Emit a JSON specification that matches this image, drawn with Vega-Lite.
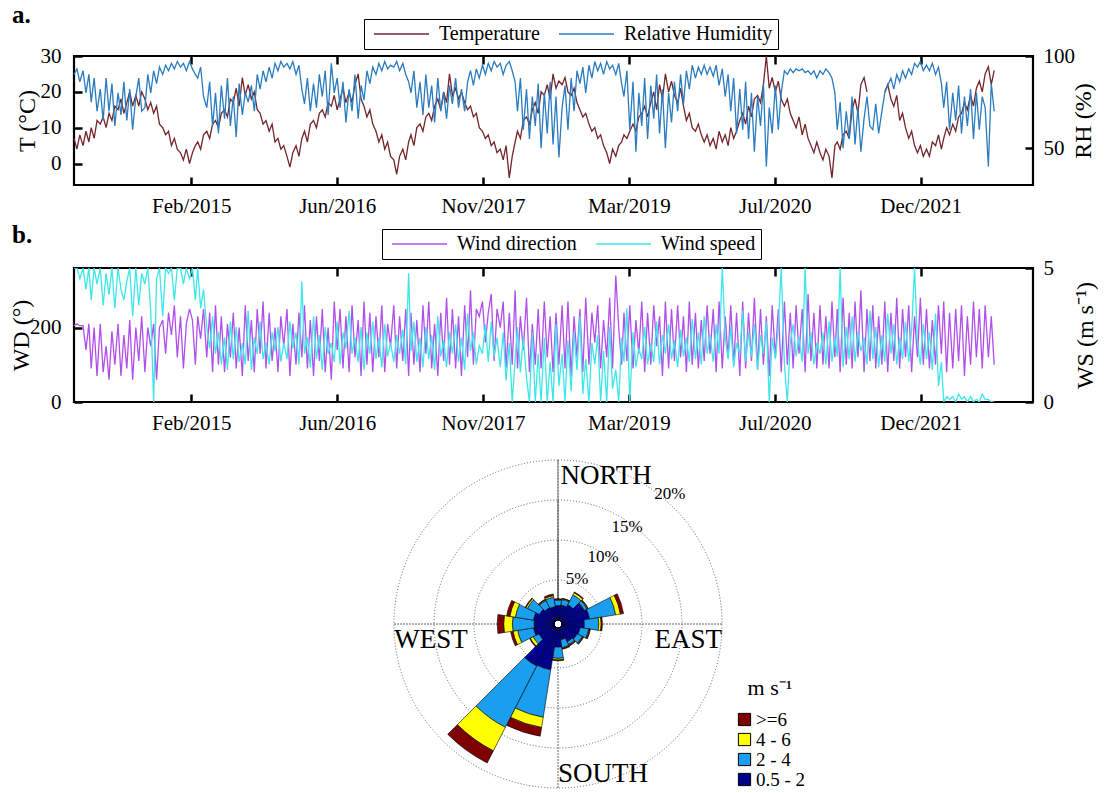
{
  "$schema": "https://vega.github.io/schema/vega-lite/v6.json",
  "background": "white",
  "padding": {"left": 7, "top": 1, "right": 6, "bottom": 2},
  "bounds": "flush",
  "spacing": 83,
  "resolve": {"scale": {"color": "independent"}, "legend": {"color": "independent"}},
  "config": {
    "font": "Liberation Serif",
    "view": {"stroke": "black", "strokeWidth": 2.2},
    "axis": {
      "labelFont": "Liberation Serif", "titleFont": "Liberation Serif",
      "labelFontSize": 21, "titleFontSize": 24, "titleFontWeight": "normal",
      "labelColor": "black", "titleColor": "black",
      "domain": false, "grid": false,
      "tickColor": "black", "tickWidth": 2.5, "tickSize": -8,
      "labelPadding": 18, "labelFlush": false, "labelOverlap": false
    },
    "legend": {"labelFont": "Liberation Serif", "titleFont": "Liberation Serif", "labelColor": "black", "titleColor": "black"},
    "title": {"font": "Liberation Serif", "fontSize": 25, "fontWeight": "bold", "anchor": "start", "frame": "group", "color": "black"}
  },
  "datasets": {
    "met": [
      {"d":"2014-01-01","T":7,"RH":90,"WD":205,"WS":5},
      {"d":"2014-01-11","T":4,"RH":93,"WD":210,"WS":5},
      {"d":"2014-01-21","T":8,"RH":86,"WD":205,"WS":4.6},
      {"d":"2014-02-01","T":5,"RH":92,"WD":205,"WS":5},
      {"d":"2014-02-11","T":9,"RH":80,"WD":140,"WS":4.2},
      {"d":"2014-02-21","T":6,"RH":90,"WD":210,"WS":5},
      {"d":"2014-03-01","T":10,"RH":75,"WD":90,"WS":3.8},
      {"d":"2014-03-11","T":7,"RH":88,"WD":200,"WS":5},
      {"d":"2014-03-21","T":12,"RH":70,"WD":70,"WS":4.4},
      {"d":"2014-04-01","T":11,"RH":82,"WD":210,"WS":5},
      {"d":"2014-04-11","T":13,"RH":65,"WD":80,"WS":3.6},
      {"d":"2014-04-21","T":10,"RH":88,"WD":150,"WS":4.8},
      {"d":"2014-05-01","T":14,"RH":70,"WD":60,"WS":4},
      {"d":"2014-05-11","T":12,"RH":85,"WD":190,"WS":5},
      {"d":"2014-05-21","T":16,"RH":62,"WD":100,"WS":3.5},
      {"d":"2014-06-01","T":15,"RH":80,"WD":210,"WS":5},
      {"d":"2014-06-11","T":18,"RH":68,"WD":70,"WS":4.2},
      {"d":"2014-06-21","T":14,"RH":86,"WD":180,"WS":3.8},
      {"d":"2014-07-01","T":17,"RH":65,"WD":90,"WS":4.5},
      {"d":"2014-07-11","T":20,"RH":82,"WD":220,"WS":5},
      {"d":"2014-07-21","T":16,"RH":60,"WD":60,"WS":3.2},
      {"d":"2014-08-01","T":19,"RH":78,"WD":200,"WS":5},
      {"d":"2014-08-11","T":16,"RH":88,"WD":110,"WS":3.6},
      {"d":"2014-08-21","T":20,"RH":70,"WD":230,"WS":4.8},
      {"d":"2014-09-01","T":18,"RH":72,"WD":80,"WS":4.4},
      {"d":"2014-09-11","T":15,"RH":90,"WD":200,"WS":5},
      {"d":"2014-09-21","T":17,"RH":80,"WD":150,"WS":3.4},
      {"d":"2014-10-01","T":14,"RH":92,"WD":210,"WS":0},
      {"d":"2014-10-11","T":16,"RH":85,"WD":60,"WS":4.6},
      {"d":"2014-10-21","T":11,"RH":94,"WD":200,"WS":5},
      {"d":"2014-11-01","T":10,"RH":90,"WD":220,"WS":3.2},
      {"d":"2014-11-11","T":8,"RH":95,"WD":130,"WS":5},
      {"d":"2014-11-21","T":9,"RH":92,"WD":240,"WS":4.8},
      {"d":"2014-12-01","T":5,"RH":96,"WD":180,"WS":5},
      {"d":"2014-12-11","T":7,"RH":93,"WD":260,"WS":3.8},
      {"d":"2014-12-21","T":4,"RH":97,"WD":120,"WS":5},
      {"d":"2015-01-01","T":3,"RH":94,"WD":230,"WS":5},
      {"d":"2015-01-11","T":1,"RH":96,"WD":90,"WS":4.4},
      {"d":"2015-01-21","T":4,"RH":92,"WD":210,"WS":5},
      {"d":"2015-02-01","T":0,"RH":97,"WD":250,"WS":4.6},
      {"d":"2015-02-11","T":3,"RH":93,"WD":220,"WS":5},
      {"d":"2015-02-21","T":5,"RH":90,"WD":100,"WS":3.8},
      {"d":"2015-03-01","T":6,"RH":88,"WD":230,"WS":5},
      {"d":"2015-03-11","T":4,"RH":94,"WD":170,"WS":3.5},
      {"d":"2015-03-21","T":8,"RH":78,"WD":250,"WS":4.2},
      {"d":"2015-04-01","T":9,"RH":72,"WD":120,"WS":2.8},
      {"d":"2015-04-11","T":7,"RH":86,"WD":240,"WS":2},
      {"d":"2015-04-21","T":11,"RH":62,"WD":80,"WS":3.2},
      {"d":"2015-05-01","T":12,"RH":80,"WD":260,"WS":1.8},
      {"d":"2015-05-11","T":10,"RH":58,"WD":100,"WS":2.6},
      {"d":"2015-05-21","T":14,"RH":84,"WD":230,"WS":1.4},
      {"d":"2015-06-01","T":15,"RH":66,"WD":80,"WS":2.4},
      {"d":"2015-06-11","T":13,"RH":88,"WD":210,"WS":1.2},
      {"d":"2015-06-21","T":18,"RH":62,"WD":120,"WS":3},
      {"d":"2015-07-01","T":17,"RH":78,"WD":240,"WS":1.6},
      {"d":"2015-07-11","T":21,"RH":56,"WD":90,"WS":2.8},
      {"d":"2015-07-21","T":16,"RH":85,"WD":200,"WS":1.5},
      {"d":"2015-08-01","T":24,"RH":68,"WD":70,"WS":2.2},
      {"d":"2015-08-11","T":19,"RH":80,"WD":260,"WS":1.4},
      {"d":"2015-08-21","T":22,"RH":75,"WD":110,"WS":3.4},
      {"d":"2015-09-01","T":18,"RH":84,"WD":220,"WS":1.2},
      {"d":"2015-09-11","T":20,"RH":70,"WD":80,"WS":2.4},
      {"d":"2015-09-21","T":15,"RH":90,"WD":250,"WS":1.8},
      {"d":"2015-10-01","T":14,"RH":82,"WD":130,"WS":3},
      {"d":"2015-10-11","T":11,"RH":92,"WD":270,"WS":1.6},
      {"d":"2015-10-21","T":12,"RH":86,"WD":90,"WS":2.2},
      {"d":"2015-11-01","T":9,"RH":94,"WD":240,"WS":1.4},
      {"d":"2015-11-11","T":11,"RH":88,"WD":110,"WS":2.6},
      {"d":"2015-11-21","T":6,"RH":96,"WD":200,"WS":1.9},
      {"d":"2015-12-01","T":7,"RH":92,"WD":80,"WS":2.8},
      {"d":"2015-12-11","T":4,"RH":97,"WD":230,"WS":1.5},
      {"d":"2015-12-21","T":5,"RH":94,"WD":150,"WS":2.2},
      {"d":"2016-01-01","T":2,"RH":96,"WD":250,"WS":1.6},
      {"d":"2016-01-11","T":-1,"RH":93,"WD":70,"WS":3},
      {"d":"2016-01-21","T":3,"RH":97,"WD":210,"WS":2},
      {"d":"2016-02-01","T":5,"RH":90,"WD":100,"WS":2.6},
      {"d":"2016-02-11","T":2,"RH":95,"WD":240,"WS":1.4},
      {"d":"2016-02-21","T":7,"RH":82,"WD":120,"WS":4.5},
      {"d":"2016-03-01","T":9,"RH":74,"WD":260,"WS":1.8},
      {"d":"2016-03-11","T":6,"RH":88,"WD":90,"WS":2.4},
      {"d":"2016-03-21","T":11,"RH":70,"WD":220,"WS":1.3},
      {"d":"2016-04-01","T":12,"RH":85,"WD":70,"WS":3.2},
      {"d":"2016-04-11","T":10,"RH":72,"WD":230,"WS":1.6},
      {"d":"2016-04-21","T":14,"RH":90,"WD":110,"WS":2.5},
      {"d":"2016-05-01","T":15,"RH":78,"WD":250,"WS":1.2},
      {"d":"2016-05-11","T":13,"RH":92,"WD":80,"WS":2.8},
      {"d":"2016-05-21","T":17,"RH":68,"WD":200,"WS":1.8},
      {"d":"2016-06-01","T":16,"RH":96,"WD":60,"WS":2.2},
      {"d":"2016-06-11","T":19,"RH":80,"WD":270,"WS":1.5},
      {"d":"2016-06-21","T":15,"RH":88,"WD":140,"WS":3},
      {"d":"2016-07-01","T":18,"RH":72,"WD":250,"WS":1.4},
      {"d":"2016-07-11","T":21,"RH":86,"WD":90,"WS":2.6},
      {"d":"2016-07-21","T":17,"RH":64,"WD":230,"WS":2},
      {"d":"2016-08-01","T":20,"RH":82,"WD":80,"WS":3.4},
      {"d":"2016-08-11","T":17,"RH":70,"WD":260,"WS":1.8},
      {"d":"2016-08-21","T":22,"RH":90,"WD":120,"WS":2.4},
      {"d":"2016-09-01","T":25,"RH":66,"WD":220,"WS":1.5},
      {"d":"2016-09-11","T":18,"RH":84,"WD":70,"WS":2.8},
      {"d":"2016-09-21","T":16,"RH":76,"WD":270,"WS":1.2},
      {"d":"2016-10-01","T":13,"RH":92,"WD":100,"WS":2.6},
      {"d":"2016-10-11","T":15,"RH":85,"WD":240,"WS":1.8},
      {"d":"2016-10-21","T":11,"RH":94,"WD":80,"WS":3},
      {"d":"2016-11-01","T":9,"RH":90,"WD":230,"WS":1.6},
      {"d":"2016-11-11","T":6,"RH":96,"WD":120,"WS":2.4},
      {"d":"2016-11-21","T":8,"RH":92,"WD":260,"WS":1.3},
      {"d":"2016-12-01","T":4,"RH":97,"WD":80,"WS":2.9},
      {"d":"2016-12-11","T":6,"RH":93,"WD":210,"WS":1.7},
      {"d":"2016-12-21","T":2,"RH":95,"WD":150,"WS":2.2},
      {"d":"2017-01-01","T":1,"RH":94,"WD":260,"WS":1.5},
      {"d":"2017-01-11","T":-3,"RH":97,"WD":90,"WS":2.5},
      {"d":"2017-01-21","T":2,"RH":92,"WD":230,"WS":1.8},
      {"d":"2017-02-01","T":4,"RH":96,"WD":110,"WS":2.7},
      {"d":"2017-02-11","T":1,"RH":90,"WD":250,"WS":1.4},
      {"d":"2017-02-21","T":6,"RH":86,"WD":70,"WS":4.8},
      {"d":"2017-03-01","T":8,"RH":80,"WD":240,"WS":1.9},
      {"d":"2017-03-11","T":5,"RH":92,"WD":100,"WS":3},
      {"d":"2017-03-21","T":10,"RH":72,"WD":220,"WS":1.5},
      {"d":"2017-04-01","T":11,"RH":86,"WD":80,"WS":2.4},
      {"d":"2017-04-11","T":9,"RH":68,"WD":260,"WS":1.3},
      {"d":"2017-04-21","T":13,"RH":90,"WD":130,"WS":2.8},
      {"d":"2017-05-01","T":14,"RH":72,"WD":270,"WS":1.6},
      {"d":"2017-05-11","T":12,"RH":84,"WD":90,"WS":2.5},
      {"d":"2017-05-21","T":16,"RH":64,"WD":210,"WS":1.2},
      {"d":"2017-06-01","T":18,"RH":88,"WD":70,"WS":3.2},
      {"d":"2017-06-11","T":15,"RH":70,"WD":240,"WS":1.7},
      {"d":"2017-06-21","T":20,"RH":80,"WD":110,"WS":2.3},
      {"d":"2017-07-01","T":17,"RH":66,"WD":280,"WS":1.3},
      {"d":"2017-07-11","T":25,"RH":84,"WD":100,"WS":2.6},
      {"d":"2017-07-21","T":19,"RH":74,"WD":250,"WS":1.8},
      {"d":"2017-08-01","T":21,"RH":88,"WD":90,"WS":2.9},
      {"d":"2017-08-11","T":18,"RH":72,"WD":230,"WS":1.5},
      {"d":"2017-08-21","T":20,"RH":82,"WD":70,"WS":2.4},
      {"d":"2017-09-01","T":17,"RH":70,"WD":260,"WS":1.2},
      {"d":"2017-09-11","T":15,"RH":86,"WD":120,"WS":3.3},
      {"d":"2017-09-21","T":16,"RH":92,"WD":300,"WS":1.9},
      {"d":"2017-10-01","T":13,"RH":84,"WD":100,"WS":2.6},
      {"d":"2017-10-11","T":14,"RH":93,"WD":250,"WS":1.4},
      {"d":"2017-10-21","T":10,"RH":88,"WD":230,"WS":2.1},
      {"d":"2017-11-01","T":9,"RH":95,"WD":270,"WS":1.8},
      {"d":"2017-11-11","T":7,"RH":90,"WD":160,"WS":2.9},
      {"d":"2017-11-21","T":8,"RH":96,"WD":240,"WS":1.5},
      {"d":"2017-12-01","T":5,"RH":92,"WD":290,"WS":3},
      {"d":"2017-12-11","T":6,"RH":97,"WD":110,"WS":1.7},
      {"d":"2017-12-21","T":3,"RH":94,"WD":250,"WS":2.4},
      {"d":"2018-01-01","T":4,"RH":96,"WD":200,"WS":1.3},
      {"d":"2018-01-11","T":1,"RH":90,"WD":270,"WS":2.6},
      {"d":"2018-01-21","T":5,"RH":95,"WD":90,"WS":0.8},
      {"d":"2018-02-01","T":-4,"RH":97,"WD":240,"WS":2.2},
      {"d":"2018-02-11","T":2,"RH":92,"WD":100,"WS":0},
      {"d":"2018-02-21","T":6,"RH":86,"WD":300,"WS":1.6},
      {"d":"2018-03-01","T":9,"RH":70,"WD":90,"WS":2.8},
      {"d":"2018-03-11","T":7,"RH":88,"WD":230,"WS":1.1},
      {"d":"2018-03-21","T":12,"RH":60,"WD":140,"WS":2.4},
      {"d":"2018-04-01","T":13,"RH":82,"WD":280,"WS":0.9},
      {"d":"2018-04-11","T":11,"RH":55,"WD":80,"WS":0},
      {"d":"2018-04-21","T":15,"RH":78,"WD":210,"WS":2.6},
      {"d":"2018-05-01","T":17,"RH":62,"WD":100,"WS":0},
      {"d":"2018-05-11","T":14,"RH":85,"WD":250,"WS":1.8},
      {"d":"2018-05-21","T":20,"RH":50,"WD":90,"WS":0},
      {"d":"2018-06-01","T":19,"RH":80,"WD":270,"WS":2.4},
      {"d":"2018-06-11","T":22,"RH":58,"WD":120,"WS":0},
      {"d":"2018-06-21","T":18,"RH":86,"WD":230,"WS":1.5},
      {"d":"2018-07-01","T":25,"RH":52,"WD":80,"WS":0},
      {"d":"2018-07-11","T":21,"RH":78,"WD":240,"WS":2.9},
      {"d":"2018-07-21","T":23,"RH":45,"WD":100,"WS":0.6},
      {"d":"2018-08-01","T":22,"RH":72,"WD":260,"WS":1.8},
      {"d":"2018-08-11","T":24,"RH":84,"WD":90,"WS":0},
      {"d":"2018-08-21","T":20,"RH":60,"WD":270,"WS":2.3},
      {"d":"2018-09-01","T":19,"RH":88,"WD":70,"WS":0.4},
      {"d":"2018-09-11","T":21,"RH":70,"WD":230,"WS":2.6},
      {"d":"2018-09-21","T":17,"RH":92,"WD":120,"WS":1.2},
      {"d":"2018-10-01","T":15,"RH":85,"WD":250,"WS":3.2},
      {"d":"2018-10-11","T":13,"RH":94,"WD":80,"WS":0.3},
      {"d":"2018-10-21","T":14,"RH":80,"WD":280,"WS":1.6},
      {"d":"2018-11-01","T":11,"RH":95,"WD":100,"WS":0},
      {"d":"2018-11-11","T":9,"RH":88,"WD":240,"WS":2.2},
      {"d":"2018-11-21","T":10,"RH":97,"WD":160,"WS":1.4},
      {"d":"2018-12-01","T":7,"RH":92,"WD":260,"WS":2.5},
      {"d":"2018-12-11","T":8,"RH":96,"WD":90,"WS":0},
      {"d":"2018-12-21","T":5,"RH":90,"WD":220,"WS":1.9},
      {"d":"2019-01-01","T":3,"RH":97,"WD":120,"WS":0},
      {"d":"2019-01-11","T":0,"RH":93,"WD":280,"WS":2.8},
      {"d":"2019-01-21","T":4,"RH":95,"WD":90,"WS":0.5},
      {"d":"2019-02-01","T":2,"RH":90,"WD":340,"WS":1.2},
      {"d":"2019-02-11","T":5,"RH":96,"WD":200,"WS":0},
      {"d":"2019-02-21","T":6,"RH":85,"WD":100,"WS":2.4},
      {"d":"2019-03-01","T":8,"RH":78,"WD":240,"WS":1.5},
      {"d":"2019-03-11","T":7,"RH":92,"WD":110,"WS":3.5},
      {"d":"2019-03-21","T":9,"RH":60,"WD":260,"WS":0},
      {"d":"2019-04-01","T":11,"RH":86,"WD":90,"WS":2.6},
      {"d":"2019-04-11","T":9,"RH":48,"WD":220,"WS":1.3},
      {"d":"2019-04-21","T":13,"RH":80,"WD":130,"WS":2},
      {"d":"2019-05-01","T":14,"RH":62,"WD":270,"WS":1.6},
      {"d":"2019-05-11","T":16,"RH":88,"WD":80,"WS":2.8},
      {"d":"2019-05-21","T":13,"RH":55,"WD":240,"WS":1.4},
      {"d":"2019-06-01","T":17,"RH":84,"WD":100,"WS":2.2},
      {"d":"2019-06-11","T":20,"RH":66,"WD":260,"WS":1.5},
      {"d":"2019-06-21","T":15,"RH":90,"WD":150,"WS":3},
      {"d":"2019-07-01","T":22,"RH":58,"WD":230,"WS":1.4},
      {"d":"2019-07-11","T":18,"RH":82,"WD":70,"WS":2.5},
      {"d":"2019-07-21","T":25,"RH":50,"WD":270,"WS":1.8},
      {"d":"2019-08-01","T":20,"RH":80,"WD":90,"WS":2.9},
      {"d":"2019-08-11","T":23,"RH":64,"WD":250,"WS":1.6},
      {"d":"2019-08-21","T":19,"RH":86,"WD":110,"WS":2.3},
      {"d":"2019-09-01","T":17,"RH":70,"WD":260,"WS":1.3},
      {"d":"2019-09-11","T":21,"RH":90,"WD":120,"WS":2.7},
      {"d":"2019-09-21","T":16,"RH":74,"WD":230,"WS":1.7},
      {"d":"2019-10-01","T":12,"RH":92,"WD":80,"WS":2.4},
      {"d":"2019-10-11","T":14,"RH":82,"WD":270,"WS":1.5},
      {"d":"2019-10-21","T":10,"RH":95,"WD":100,"WS":3.1},
      {"d":"2019-11-01","T":9,"RH":88,"WD":240,"WS":1.6},
      {"d":"2019-11-11","T":11,"RH":94,"WD":90,"WS":2.6},
      {"d":"2019-11-21","T":8,"RH":90,"WD":220,"WS":1.4},
      {"d":"2019-12-01","T":6,"RH":95,"WD":110,"WS":3.2},
      {"d":"2019-12-11","T":8,"RH":90,"WD":260,"WS":1.8},
      {"d":"2019-12-21","T":5,"RH":94,"WD":130,"WS":2.5},
      {"d":"2020-01-01","T":7,"RH":89,"WD":250,"WS":1.5},
      {"d":"2020-01-11","T":4,"RH":95,"WD":80,"WS":2.9},
      {"d":"2020-01-21","T":9,"RH":84,"WD":270,"WS":1.8},
      {"d":"2020-02-01","T":6,"RH":93,"WD":90,"WS":5},
      {"d":"2020-02-11","T":8,"RH":78,"WD":230,"WS":2.4},
      {"d":"2020-02-21","T":5,"RH":90,"WD":120,"WS":1.6},
      {"d":"2020-03-01","T":10,"RH":70,"WD":260,"WS":2.8},
      {"d":"2020-03-11","T":7,"RH":88,"WD":100,"WS":1.3},
      {"d":"2020-03-21","T":9,"RH":58,"WD":240,"WS":2.2},
      {"d":"2020-04-01","T":12,"RH":82,"WD":70,"WS":1.8},
      {"d":"2020-04-11","T":14,"RH":60,"WD":270,"WS":3.4},
      {"d":"2020-04-21","T":11,"RH":86,"WD":90,"WS":1.5},
      {"d":"2020-05-01","T":16,"RH":55,"WD":240,"WS":2.6},
      {"d":"2020-05-11","T":13,"RH":80,"WD":110,"WS":1.7},
      {"d":"2020-05-21","T":18,"RH":48,"WD":280,"WS":2.9},
      {"d":"2020-06-01","T":19,"RH":78,"WD":90,"WS":1.2},
      {"d":"2020-06-11","T":17,"RH":62,"WD":250,"WS":2.5},
      {"d":"2020-06-21","T":22,"RH":85,"WD":100,"WS":1.8},
      {"d":"2020-07-01","T":30,"RH":40,"WD":230,"WS":3},
      {"d":"2020-07-11","T":21,"RH":72,"WD":70,"WS":0},
      {"d":"2020-07-21","T":24,"RH":58,"WD":260,"WS":2.4},
      {"d":"2020-08-01","T":20,"RH":84,"WD":120,"WS":1.6},
      {"d":"2020-08-11","T":23,"RH":60,"WD":250,"WS":2.8},
      {"d":"2020-08-21","T":18,"RH":80,"WD":80,"WS":5},
      {"d":"2020-09-01","T":16,"RH":92,"WD":270,"WS":1.4},
      {"d":"2020-09-11","T":18,"RH":90,"WD":100,"WS":0},
      {"d":"2020-09-21","T":14,"RH":93,"WD":240,"WS":2.2},
      {"d":"2020-10-01","T":12,"RH":91,"WD":90,"WS":2.9},
      {"d":"2020-10-11","T":10,"RH":93,"WD":260,"WS":1.7},
      {"d":"2020-10-21","T":13,"RH":92,"WD":130,"WS":2.4},
      {"d":"2020-11-01","T":8,"RH":93,"WD":250,"WS":1.5},
      {"d":"2020-11-11","T":11,"RH":91,"WD":80,"WS":5},
      {"d":"2020-11-21","T":7,"RH":92,"WD":290,"WS":1.8},
      {"d":"2020-12-01","T":5,"RH":90,"WD":110,"WS":2.6},
      {"d":"2020-12-11","T":3,"RH":92,"WD":240,"WS":1.4},
      {"d":"2020-12-21","T":6,"RH":88,"WD":90,"WS":2.2},
      {"d":"2021-01-01","T":3,"RH":92,"WD":260,"WS":1.8},
      {"d":"2021-01-11","T":1,"RH":90,"WD":100,"WS":2.6},
      {"d":"2021-01-21","T":4,"RH":93,"WD":230,"WS":1.4},
      {"d":"2021-02-01","T":2,"RH":91,"WD":90,"WS":3},
      {"d":"2021-02-11","T":-4,"RH":88,"WD":270,"WS":1.5},
      {"d":"2021-02-21","T":5,"RH":80,"WD":120,"WS":2.4},
      {"d":"2021-03-01","T":6,"RH":60,"WD":250,"WS":1.7},
      {"d":"2021-03-11","T":4,"RH":75,"WD":80,"WS":5},
      {"d":"2021-03-21","T":8,"RH":50,"WD":280,"WS":1.3},
      {"d":"2021-04-01","T":9,"RH":70,"WD":100,"WS":2.8},
      {"d":"2021-04-11","T":7,"RH":55,"WD":240,"WS":1.6},
      {"d":"2021-04-21","T":15,"RH":78,"WD":90,"WS":3.2},
      {"d":"2021-05-01","T":18,"RH":52,"WD":270,"WS":1.5},
      {"d":"2021-05-11","T":14,"RH":72,"WD":120,"WS":2.6},
      {"d":"2021-05-21","T":22,"RH":48,"WD":300,"WS":1.9},
      {"d":"2021-06-01","T":24,"RH":66,"WD":80,"WS":2.4},
      {"d":"2021-06-11","T":20,"RH":78,"WD":250,"WS":1.4},
      {"d":"2021-06-21","T":null,"RH":62,"WD":110,"WS":3.4},
      {"d":"2021-07-01","T":null,"RH":60,"WD":260,"WS":1.6},
      {"d":"2021-07-11","T":null,"RH":74,"WD":90,"WS":2.8},
      {"d":"2021-07-21","T":null,"RH":58,"WD":230,"WS":1.3},
      {"d":"2021-08-01","T":null,"RH":70,"WD":100,"WS":2.5},
      {"d":"2021-08-11","T":20,"RH":80,"WD":270,"WS":1.5},
      {"d":"2021-08-21","T":22,"RH":84,"WD":80,"WS":3.3},
      {"d":"2021-09-01","T":18,"RH":88,"WD":240,"WS":1.8},
      {"d":"2021-09-11","T":16,"RH":82,"WD":110,"WS":2.9},
      {"d":"2021-09-21","T":19,"RH":90,"WD":280,"WS":1.4},
      {"d":"2021-10-01","T":12,"RH":86,"WD":90,"WS":2.4},
      {"d":"2021-10-11","T":14,"RH":92,"WD":250,"WS":1.6},
      {"d":"2021-10-21","T":10,"RH":88,"WD":120,"WS":3},
      {"d":"2021-11-01","T":7,"RH":93,"WD":260,"WS":1.5},
      {"d":"2021-11-11","T":9,"RH":90,"WD":80,"WS":2.7},
      {"d":"2021-11-21","T":5,"RH":96,"WD":230,"WS":5},
      {"d":"2021-12-01","T":3,"RH":94,"WD":120,"WS":2.2},
      {"d":"2021-12-11","T":5,"RH":97,"WD":280,"WS":1.4},
      {"d":"2021-12-21","T":2,"RH":92,"WD":100,"WS":2.9},
      {"d":"2022-01-01","T":4,"RH":95,"WD":250,"WS":1.6},
      {"d":"2022-01-11","T":2,"RH":92,"WD":90,"WS":2.6},
      {"d":"2022-01-21","T":6,"RH":96,"WD":220,"WS":1.2},
      {"d":"2022-02-01","T":5,"RH":90,"WD":100,"WS":3.3},
      {"d":"2022-02-11","T":8,"RH":94,"WD":260,"WS":0.6},
      {"d":"2022-02-21","T":4,"RH":85,"WD":130,"WS":1.5},
      {"d":"2022-03-01","T":7,"RH":72,"WD":270,"WS":0},
      {"d":"2022-03-11","T":10,"RH":86,"WD":80,"WS":0.2},
      {"d":"2022-03-21","T":8,"RH":60,"WD":240,"WS":0.1},
      {"d":"2022-04-01","T":11,"RH":80,"WD":90,"WS":0.2},
      {"d":"2022-04-11","T":9,"RH":65,"WD":250,"WS":0},
      {"d":"2022-04-21","T":13,"RH":84,"WD":110,"WS":0.3},
      {"d":"2022-05-01","T":14,"RH":58,"WD":260,"WS":0.1},
      {"d":"2022-05-11","T":17,"RH":78,"WD":70,"WS":0.2},
      {"d":"2022-05-21","T":15,"RH":62,"WD":230,"WS":0},
      {"d":"2022-06-01","T":19,"RH":82,"WD":100,"WS":0.2},
      {"d":"2022-06-11","T":16,"RH":55,"WD":270,"WS":0},
      {"d":"2022-06-21","T":21,"RH":80,"WD":120,"WS":0.1},
      {"d":"2022-07-01","T":23,"RH":60,"WD":250,"WS":0},
      {"d":"2022-07-11","T":20,"RH":78,"WD":90,"WS":0.3},
      {"d":"2022-07-21","T":25,"RH":72,"WD":260,"WS":0.1},
      {"d":"2022-08-01","T":27,"RH":40,"WD":120,"WS":0.1},
      {"d":"2022-08-11","T":22,"RH":85,"WD":230,"WS":0},
      {"d":"2022-08-21","T":26,"RH":70,"WD":100,"WS":0}
    ],
    "rose": [
      {"dir":0,"k":1,"cls":"0.5 - 2","pct":1.8},{"dir":0,"k":2,"cls":"2 - 4","pct":0.7},{"dir":0,"k":3,"cls":"4 - 6","pct":0.1},{"dir":0,"k":4,"cls":">=6","pct":0.05},
      {"dir":18,"k":1,"cls":"0.5 - 2","pct":1.9},{"dir":18,"k":2,"cls":"2 - 4","pct":0.7},{"dir":18,"k":3,"cls":"4 - 6","pct":0.1},{"dir":18,"k":4,"cls":">=6","pct":0.05},
      {"dir":36,"k":1,"cls":"0.5 - 2","pct":2.2},{"dir":36,"k":2,"cls":"2 - 4","pct":1.4},{"dir":36,"k":3,"cls":"4 - 6","pct":0.3},{"dir":36,"k":4,"cls":">=6","pct":0.1},
      {"dir":54,"k":1,"cls":"0.5 - 2","pct":3.2},{"dir":54,"k":2,"cls":"2 - 4","pct":0.4},{"dir":54,"k":3,"cls":"4 - 6","pct":0.1},{"dir":54,"k":4,"cls":">=6","pct":0.05},
      {"dir":72,"k":1,"cls":"0.5 - 2","pct":3.5},{"dir":72,"k":2,"cls":"2 - 4","pct":3.3},{"dir":72,"k":3,"cls":"4 - 6","pct":0.6},{"dir":72,"k":4,"cls":">=6","pct":0.4},
      {"dir":90,"k":1,"cls":"0.5 - 2","pct":2.8},{"dir":90,"k":2,"cls":"2 - 4","pct":1.8},{"dir":90,"k":3,"cls":"4 - 6","pct":0.3},{"dir":90,"k":4,"cls":">=6","pct":0.15},
      {"dir":108,"k":1,"cls":"0.5 - 2","pct":2.3},{"dir":108,"k":2,"cls":"2 - 4","pct":1.1},{"dir":108,"k":3,"cls":"4 - 6","pct":0.1},{"dir":108,"k":4,"cls":">=6","pct":0.1},
      {"dir":126,"k":1,"cls":"0.5 - 2","pct":2.2},{"dir":126,"k":2,"cls":"2 - 4","pct":0.7},{"dir":126,"k":3,"cls":"4 - 6","pct":0.1},{"dir":126,"k":4,"cls":">=6","pct":0.1},
      {"dir":144,"k":1,"cls":"0.5 - 2","pct":2.0},{"dir":144,"k":2,"cls":"2 - 4","pct":0.4},{"dir":144,"k":3,"cls":"4 - 6","pct":0.1},{"dir":144,"k":4,"cls":">=6","pct":0.1},
      {"dir":162,"k":1,"cls":"0.5 - 2","pct":1.5},{"dir":162,"k":2,"cls":"2 - 4","pct":1.0},{"dir":162,"k":3,"cls":"4 - 6","pct":0.1},{"dir":162,"k":4,"cls":">=6","pct":0.1},
      {"dir":180,"k":1,"cls":"0.5 - 2","pct":2.4},{"dir":180,"k":2,"cls":"2 - 4","pct":1.4},{"dir":180,"k":3,"cls":"4 - 6","pct":0.2},{"dir":180,"k":4,"cls":">=6","pct":0.1},
      {"dir":198,"k":1,"cls":"0.5 - 2","pct":5.3},{"dir":198,"k":2,"cls":"2 - 4","pct":6.0},{"dir":198,"k":3,"cls":"4 - 6","pct":1.3},{"dir":198,"k":4,"cls":">=6","pct":1.1},
      {"dir":216,"k":1,"cls":"0.5 - 2","pct":5.4},{"dir":216,"k":2,"cls":"2 - 4","pct":8.6},{"dir":216,"k":3,"cls":"4 - 6","pct":3.3},{"dir":216,"k":4,"cls":">=6","pct":1.7},
      {"dir":234,"k":1,"cls":"0.5 - 2","pct":2.2},{"dir":234,"k":2,"cls":"2 - 4","pct":0.8},{"dir":234,"k":3,"cls":"4 - 6","pct":0.4},{"dir":234,"k":4,"cls":">=6","pct":0.1},
      {"dir":252,"k":1,"cls":"0.5 - 2","pct":2.6},{"dir":252,"k":2,"cls":"2 - 4","pct":2.0},{"dir":252,"k":3,"cls":"4 - 6","pct":0.6},{"dir":252,"k":4,"cls":">=6","pct":0.3},
      {"dir":270,"k":1,"cls":"0.5 - 2","pct":2.5},{"dir":270,"k":2,"cls":"2 - 4","pct":2.7},{"dir":270,"k":3,"cls":"4 - 6","pct":1.1},{"dir":270,"k":4,"cls":">=6","pct":0.8},
      {"dir":288,"k":1,"cls":"0.5 - 2","pct":2.6},{"dir":288,"k":2,"cls":"2 - 4","pct":2.3},{"dir":288,"k":3,"cls":"4 - 6","pct":0.7},{"dir":288,"k":4,"cls":">=6","pct":0.4},
      {"dir":306,"k":1,"cls":"0.5 - 2","pct":2.1},{"dir":306,"k":2,"cls":"2 - 4","pct":1.7},{"dir":306,"k":3,"cls":"4 - 6","pct":0.2},{"dir":306,"k":4,"cls":">=6","pct":0.1},
      {"dir":324,"k":1,"cls":"0.5 - 2","pct":1.8},{"dir":324,"k":2,"cls":"2 - 4","pct":1.0},{"dir":324,"k":3,"cls":"4 - 6","pct":0.1},{"dir":324,"k":4,"cls":">=6","pct":0.1},
      {"dir":342,"k":1,"cls":"0.5 - 2","pct":1.7},{"dir":342,"k":2,"cls":"2 - 4","pct":1.2},{"dir":342,"k":3,"cls":"4 - 6","pct":0.2},{"dir":342,"k":4,"cls":">=6","pct":0.2}
    ]
  },
  "vconcat": [
    {
      "title": {"text": "a.", "dx": -62, "dy": 13},
      "width": 959,
      "height": 129,
      "data": {"name": "met"},
      "layer": [
        {
          "mark": {"type": "line", "strokeWidth": 1.3},
          "encoding": {
            "x": {"field": "d", "type": "temporal",
              "scale": {"domain": [{"year": 2014, "month": 1, "date": 1}, {"year": 2023, "month": 1, "date": 1}]},
              "axis": {"orient": "bottom", "title": null, "format": "%b/%Y",
                "values": [{"year": 2015, "month": 2, "date": 7}, {"year": 2016, "month": 6, "date": 21}, {"year": 2017, "month": 11, "date": 3}, {"year": 2019, "month": 3, "date": 18}, {"year": 2020, "month": 7, "date": 30}, {"year": 2021, "month": 12, "date": 12}]}},
            "y": {"field": "T", "type": "quantitative",
              "scale": {"domain": [-6, 30], "nice": false, "zero": false},
              "axis": {"orient": "left", "values": [0, 10, 20, 30], "labelPadding": 21, "title": "T (°C)", "titleAngle": -90, "titleBaseline": "middle", "titleX": -47}},
            "color": {"datum": "Temperature", "type": "nominal",
              "scale": {"domain": ["Temperature", "Relative Humidity"], "range": ["#72262a", "#2a7bbf"]},
              "legend": {"title": null, "orient": "none", "legendX": 290, "legendY": -37, "direction": "horizontal",
                "symbolType": "M-1,0H10", "symbolSize": 100, "symbolStrokeWidth": 1.4,
                "labelFontSize": 20, "labelOffset": 50, "columnPadding": 14, "padding": 5,
                "strokeColor": "black", "fillColor": "white"}}
          }
        },
        {
          "mark": {"type": "line", "strokeWidth": 1.3},
          "encoding": {
            "x": {"field": "d", "type": "temporal",
              "axis": {"orient": "top", "title": null, "labels": false,
                "values": [{"year": 2015, "month": 2, "date": 7}, {"year": 2016, "month": 6, "date": 21}, {"year": 2017, "month": 11, "date": 3}, {"year": 2019, "month": 3, "date": 18}, {"year": 2020, "month": 7, "date": 30}, {"year": 2021, "month": 12, "date": 12}]}},
            "y": {"field": "RH", "type": "quantitative",
              "scale": {"domain": [30, 100], "nice": false, "zero": false},
              "axis": {"orient": "right", "values": [50, 100], "title": "RH (%)", "titleAngle": -90, "titleBaseline": "middle", "titleX": 50}},
            "color": {"datum": "Relative Humidity", "type": "nominal"}
          }
        }
      ],
      "resolve": {"scale": {"y": "independent"}, "axis": {"x": "independent", "y": "independent"}}
    },
    {
      "title": {"text": "b.", "dx": -62, "dy": 23},
      "width": 959,
      "height": 134,
      "data": {"name": "met"},
      "layer": [
        {
          "mark": {"type": "line", "strokeWidth": 1.3},
          "encoding": {
            "x": {"field": "d", "type": "temporal",
              "scale": {"domain": [{"year": 2014, "month": 1, "date": 1}, {"year": 2023, "month": 1, "date": 1}]},
              "axis": {"orient": "bottom", "title": null, "format": "%b/%Y",
                "values": [{"year": 2015, "month": 2, "date": 7}, {"year": 2016, "month": 6, "date": 21}, {"year": 2017, "month": 11, "date": 3}, {"year": 2019, "month": 3, "date": 18}, {"year": 2020, "month": 7, "date": 30}, {"year": 2021, "month": 12, "date": 12}]}},
            "y": {"field": "WD", "type": "quantitative",
              "scale": {"domain": [0, 360], "nice": false},
              "axis": {"orient": "left", "values": [0, 200], "labelPadding": 21, "title": "WD (°)", "titleAngle": -90, "titleBaseline": "middle", "titleX": -53}},
            "color": {"datum": "Wind direction", "type": "nominal",
              "scale": {"domain": ["Wind direction", "Wind speed"], "range": ["#b04fe9", "#3ee6ea"]},
              "legend": {"title": null, "orient": "none", "legendX": 308, "legendY": -39, "direction": "horizontal",
                "symbolType": "M-1,0H10", "symbolSize": 100, "symbolStrokeWidth": 1.4,
                "labelFontSize": 20, "labelOffset": 50, "columnPadding": 14, "padding": 5,
                "strokeColor": "black", "fillColor": "white"}}
          }
        },
        {
          "mark": {"type": "line", "strokeWidth": 1.3, "clip": true},
          "encoding": {
            "x": {"field": "d", "type": "temporal",
              "axis": {"orient": "top", "title": null, "labels": false,
                "values": [{"year": 2015, "month": 2, "date": 7}, {"year": 2016, "month": 6, "date": 21}, {"year": 2017, "month": 11, "date": 3}, {"year": 2019, "month": 3, "date": 18}, {"year": 2020, "month": 7, "date": 30}, {"year": 2021, "month": 12, "date": 12}]}},
            "y": {"field": "WS", "type": "quantitative",
              "scale": {"domain": [0, 5], "nice": false},
              "axis": {"orient": "right", "values": [0, 5], "title": "WS (m s⁻¹)", "titleAngle": -90, "titleBaseline": "middle", "titleX": 52}},
            "color": {"datum": "Wind speed", "type": "nominal"}
          }
        }
      ],
      "resolve": {"scale": {"y": "independent"}, "axis": {"x": "independent", "y": "independent"}}
    },
    {
      "width": 968,
      "height": 278,
      "view": {"stroke": null},
      "layer": [
        {
          "data": {"values": [{"ring": 5}, {"ring": 10}, {"ring": 15}, {"ring": 20}]},
          "mark": {"type": "arc", "filled": false, "stroke": "#555555", "strokeWidth": 0.9, "strokeDash": [1, 2]},
          "encoding": {
            "theta": {"datum": 0, "type": "quantitative", "scale": {"domain": [0, 360], "range": [0, 6.283185307]}},
            "theta2": {"datum": 360},
            "radius": {"field": "ring", "type": "quantitative", "scale": {"type": "linear", "domain": [0, 20], "range": [4, 164], "zero": false}},
            "radius2": {"datum": 0}
          }
        },
        {
          "data": {"values": [{"ang": 0}, {"ang": 90}, {"ang": 180}, {"ang": 270}]},
          "mark": {"type": "arc", "filled": false, "stroke": "#555555", "strokeWidth": 0.9, "strokeDash": [1, 2]},
          "encoding": {
            "theta": {"field": "ang", "type": "quantitative", "scale": {"domain": [0, 360], "range": [0, 6.283185307]}},
            "theta2": {"field": "ang"},
            "radius": {"datum": 20, "type": "quantitative", "scale": {"type": "linear", "domain": [0, 20], "range": [4, 164], "zero": false}},
            "radius2": {"datum": 0}
          }
        },
        {
          "data": {"name": "rose"},
          "transform": [
            {"stack": "pct", "groupby": ["dir"], "sort": [{"field": "k", "order": "ascending"}], "as": ["r0", "r1"]},
            {"calculate": "datum.dir - 9", "as": "a0"},
            {"calculate": "datum.dir + 9", "as": "a1"}
          ],
          "mark": {"type": "arc", "stroke": "black", "strokeWidth": 0.6},
          "encoding": {
            "theta": {"field": "a0", "type": "quantitative", "scale": {"domain": [0, 360], "range": [0, 6.283185307]}},
            "theta2": {"field": "a1"},
            "radius": {"field": "r1", "type": "quantitative", "scale": {"type": "linear", "domain": [0, 20], "range": [4, 164], "zero": false}},
            "radius2": {"field": "r0"},
            "color": {"field": "cls", "type": "nominal",
              "scale": {"domain": [">=6", "4 - 6", "2 - 4", "0.5 - 2"], "range": ["#7f0000", "#ffff00", "#1a9ff0", "#00008b"]},
              "legend": {"title": "m s⁻¹", "orient": "none", "legendX": 661, "legendY": 193,
                "symbolType": "square", "symbolSize": 150, "symbolStrokeColor": "black", "symbolStrokeWidth": 1,
                "labelFontSize": 19, "titleFontSize": 22, "titleFontWeight": "normal", "titlePadding": 10,
                "titleAnchor": "middle", "rowPadding": 0, "labelOffset": 2}}
          }
        },
        {
          "data": {"values": [{"c": 0}]},
          "mark": {"type": "arc", "filled": false, "stroke": "black", "strokeWidth": 1},
          "encoding": {
            "theta": {"datum": 0, "type": "quantitative", "scale": {"domain": [0, 360], "range": [0, 6.283185307]}},
            "theta2": {"datum": 360},
            "radius": {"datum": 0, "type": "quantitative", "scale": {"type": "linear", "domain": [0, 20], "range": [4, 164], "zero": false}},
            "radius2": {"datum": 0}
          }
        },
        {
          "data": {"values": [
            {"lab": "NORTH", "ang": 18, "pct": 18.95},
            {"lab": "SOUTH", "ang": 163.3, "pct": 19.1},
            {"lab": "WEST", "ang": 262.8, "pct": 15.5},
            {"lab": "EAST", "ang": 97, "pct": 15.9}
          ]},
          "mark": {"type": "text", "fontSize": 27, "font": "Liberation Serif", "align": "center", "baseline": "middle", "color": "black"},
          "encoding": {
            "theta": {"field": "ang", "type": "quantitative", "scale": {"domain": [0, 360], "range": [0, 6.283185307]}},
            "radius": {"field": "pct", "type": "quantitative", "scale": {"type": "linear", "domain": [0, 20], "range": [4, 164], "zero": false}},
            "text": {"field": "lab"}
          }
        },
        {
          "data": {"values": [
            {"lab": "5%", "ang": 22.9, "pct": 5.6},
            {"lab": "10%", "ang": 33.9, "pct": 9.6},
            {"lab": "15%", "ang": 35.4, "pct": 14.4},
            {"lab": "20%", "ang": 40.7, "pct": 20.95}
          ]},
          "mark": {"type": "text", "fontSize": 17, "font": "Liberation Serif", "align": "center", "baseline": "middle", "color": "black"},
          "encoding": {
            "theta": {"field": "ang", "type": "quantitative", "scale": {"domain": [0, 360], "range": [0, 6.283185307]}},
            "radius": {"field": "pct", "type": "quantitative", "scale": {"type": "linear", "domain": [0, 20], "range": [4, 164], "zero": false}},
            "text": {"field": "lab"}
          }
        }
      ]
    }
  ]
}
